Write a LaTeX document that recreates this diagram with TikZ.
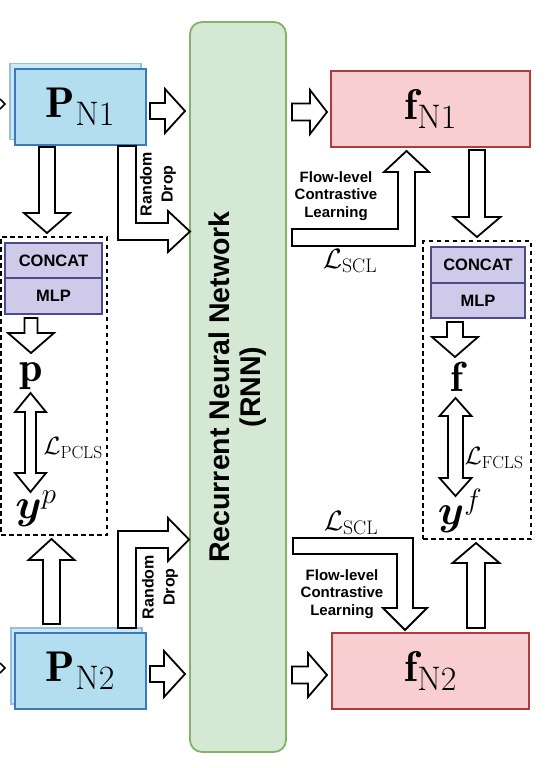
\RequirePackage{fix-cm}
\documentclass[tikz,border=0pt]{standalone}
\usepackage{amsmath}
\usepackage{fontspec}
\setsansfont{Liberation Sans}
\definecolor{pfill}{RGB}{178,222,240}
\definecolor{pdraw}{RGB}{60,120,190}
\definecolor{pbfill}{RGB}{205,232,245}
\definecolor{pbdraw}{RGB}{150,190,225}
\definecolor{ffill}{RGB}{248,206,208}
\definecolor{fdraw}{RGB}{175,60,60}
\definecolor{rnnfill}{RGB}{213,232,212}
\definecolor{rnndraw}{RGB}{130,179,102}
\definecolor{cfill}{RGB}{208,202,234}
\definecolor{cdraw}{RGB}{75,75,135}
\newcommand{\subtxt}[1]{\text{\fontsize{34}{34}\selectfont\rmfamily #1}}
\tikzset{
  blk/.style={draw=black, fill=white, line width=1.8pt, line join=miter},
  pbox/.style={draw=pdraw, fill=pfill, line width=1.4pt, minimum width=131pt, minimum height=76pt, inner sep=0pt},
  pback/.style={draw=pbdraw, fill=pbfill, line width=1.2pt, minimum width=131pt, minimum height=76pt, inner sep=0pt},
  fbox/.style={draw=fdraw, fill=ffill, line width=1.4pt, minimum height=76pt, inner sep=0pt},
  rnnbox/.style={draw=rnndraw, fill=rnnfill, line width=1.8pt, rounded corners=12pt, minimum width=96pt, minimum height=730pt, inner sep=0pt},
  dbox/.style={draw=black, dash pattern=on 4.5pt off 3.5pt, line width=1.5pt, inner sep=0pt},
  cbox/.style={draw=cdraw, fill=cfill, line width=1.3pt, inner sep=0pt, font=\sffamily\bfseries\fontsize{16.5}{18}\selectfont},
  bigmath/.style={inner sep=0pt, font=\fontsize{42}{42}\selectfont},
  lossmath/.style={inner sep=0pt},
  smalltxt/.style={inner sep=0pt, align=center, font=\sffamily\bfseries\fontsize{15}{17.5}\selectfont},
  droptxt/.style={inner sep=0pt, align=center, rotate=90, font=\sffamily\bfseries\fontsize{16}{21}\selectfont},
  rnntxt/.style={inner sep=0pt, align=center, rotate=90, font=\sffamily\bfseries\fontsize{28.5}{31}\selectfont},
}
% horizontal block arrow: x-start, x-tip, y-centre, shaft half, head half, head length (signed)
\newcommand{\harr}[6]{\draw[blk] ({#1},{#3-(#4)}) -- ({#2-(#6)},{#3-(#4)}) -- ({#2-(#6)},{#3-(#5)}) -- ({#2},{#3}) -- ({#2-(#6)},{#3+(#5)}) -- ({#2-(#6)},{#3+(#4)}) -- ({#1},{#3+(#4)}) -- cycle;}
% vertical block arrow: y-start, y-tip, x-centre, shaft half, head half, head length (signed)
\newcommand{\varr}[6]{\draw[blk] ({#3-(#4)},{#1}) -- ({#3-(#4)},{#2-(#6)}) -- ({#3-(#5)},{#2-(#6)}) -- ({#3},{#2}) -- ({#3+(#5)},{#2-(#6)}) -- ({#3+(#4)},{#2-(#6)}) -- ({#3+(#4)},{#1}) -- cycle;}
% vertical double block arrow: y-top tip, y-bottom tip, x-centre, shaft half, head half, head length
\newcommand{\dvarr}[6]{\draw[blk] ({#3},{#1}) -- ({#3+(#5)},{#1+(#6)}) -- ({#3+(#4)},{#1+(#6)}) -- ({#3+(#4)},{#2-(#6)}) -- ({#3+(#5)},{#2-(#6)}) -- ({#3},{#2}) -- ({#3-(#5)},{#2-(#6)}) -- ({#3-(#4)},{#2-(#6)}) -- ({#3-(#4)},{#1+(#6)}) -- ({#3-(#5)},{#1+(#6)}) -- cycle;}
\begin{document}
\begin{tikzpicture}[x=1pt,y=-1pt]
\useasboundingbox (0,0) rectangle (556,768);
% RNN
\node[rnnbox] (rnn) at (238,387) {};
\node[rnntxt] (rnnlab) at (237.5,387) {Recurrent Neural Network\\(RNN)};
% packet boxes
\node[pback] (P1b) at (75.5,101.5) {};
\node[pbox] (P1) at (80.5,107) {\fontsize{43}{43}\selectfont$\mathbf{P}_{\subtxt{N1}}$};
\node[pback] (P2b) at (76.5,666) {};
\node[pbox] (P2) at (80.5,671) {\fontsize{43}{43}\selectfont$\mathbf{P}_{\subtxt{N2}}$};
% flow boxes
\node[fbox, minimum width=199pt] (f1) at (430.5,109) {\fontsize{43}{43}\selectfont$\mathbf{f}_{\subtxt{N1}}$};
\node[fbox, minimum width=197pt] (f2) at (430.5,671) {\fontsize{43}{43}\selectfont$\mathbf{f}_{\subtxt{N2}}$};
% dashed groups
\node[dbox, minimum width=106pt, minimum height=298pt] (dl) at (54,386) {};
\node[dbox, minimum width=108pt, minimum height=298pt] (dr) at (477,390) {};
\node[cbox, minimum width=97pt, minimum height=35pt] (cl) at (53.5,260.5) {CONCAT};
\node[cbox, minimum width=97pt, minimum height=36pt] (ml) at (53.5,296) {MLP};
\node[cbox, minimum width=94pt, minimum height=36pt] (cr) at (478,265) {CONCAT};
\node[cbox, minimum width=94pt, minimum height=35pt] (mr) at (478,300.5) {MLP};
% outputs
\node[bigmath] (p) at (31.5,376) {$\mathbf{p}$};
\node[bigmath] (yp) at (36,509) {$\boldsymbol{y}^{p}$};
\node[bigmath] (f) at (457,377) {$\mathbf{f}$};
\node[bigmath] (yf) at (460,511) {$\boldsymbol{y}^{f}$};
% losses
\node[lossmath, font=\fontsize{25}{25}\selectfont] (Lp) at (73,448) {$\mathcal{L}_{\mathrm{PCLS}}$};
\node[lossmath, font=\fontsize{25}{25}\selectfont] (Lf) at (494,458) {$\mathcal{L}_{\mathrm{FCLS}}$};
\node[lossmath, font=\fontsize{28}{28}\selectfont] (Ls1) at (350,261) {$\mathcal{L}_{\mathrm{SCL}}$};
\node[lossmath, font=\fontsize{28}{28}\selectfont] (Ls2) at (351,523) {$\mathcal{L}_{\mathrm{SCL}}$};
% texts
\node[smalltxt] (fl1) at (336,196) {Flow-level\\Contrastive\\Learning};
\node[smalltxt] (fl2) at (342,594) {Flow-level\\Contrastive\\Learning};
\node[droptxt] (rd1) at (158,184) {Random\\Drop};
\node[droptxt] (rd2) at (160,587) {Random\\Drop};
% incoming arrow tips at left edge
\draw[line width=1.6pt] (0,99) -- (5,104) -- (0,109);
\draw[line width=1.6pt] (0,663) -- (5,668) -- (0,673);
% straight arrows
\harr{150}{185}{111}{8}{22}{20}
\harr{292}{327}{112}{8.5}{22}{17}
\harr{150}{185}{674}{8}{23}{21}
\harr{292}{327}{675}{8.5}{22}{19}
\varr{147}{233}{47}{8}{23}{20}
\varr{624}{539}{51.5}{8.5}{23}{-21}
\varr{150}{237}{477}{8}{23.5}{20}
\varr{628}{543}{476}{9}{23.5}{-20}
\varr{318}{353}{31}{6.5}{23}{20}
\varr{322}{357}{455}{8}{23}{20}
\dvarr{393}{492}{30.5}{5.5}{15.5}{19}
\dvarr{398}{496}{455.5}{7.5}{16}{18}
% L-shaped random drop arrows
\draw[blk] (118,146) -- (118,240) -- (168,240) -- (168,252) -- (190,231.5) -- (168,211) -- (168,223) -- (136,223) -- (136,146) -- cycle;
\draw[blk] (118,628) -- (118,531) -- (168,531) -- (168,518) -- (189,539.5) -- (168,561) -- (168,548) -- (136,548) -- (136,628) -- cycle;
% L-shaped contrastive arrows
\draw[blk] (292,229) -- (398,229) -- (398,172) -- (384,172) -- (406.5,151) -- (429,172) -- (415,172) -- (415,246) -- (292,246) -- cycle;
\draw[blk] (293,538) -- (413,538) -- (413,608) -- (427,608) -- (405,630) -- (383,608) -- (397,608) -- (397,554) -- (293,554) -- cycle;
\end{tikzpicture}
\end{document}
